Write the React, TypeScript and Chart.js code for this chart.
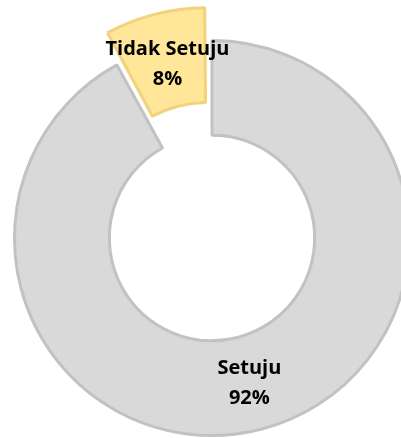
import React, { useEffect, useRef } from "react";
import { Chart, registerables } from "chart.js";

Chart.register(...registerables);

const categories: string[] = ["Setuju", "Tidak Setuju"];
const values: number[] = [92, 8];
const percentLabels: string[] = ["92%", "8%"];
const fillColors: string[] = ["#d9d9d9", "#ffe699"];
const borderColors: string[] = ["#c2c2c2", "#f2d27a"];
const explode: number[] = [0, 88];

const SIZE = 486;
const CX = 212;
const CY = 238;

const labelPlugin = {
  id: "sliceLabels",
  afterDatasetsDraw(chart: any) {
    const ctx = chart.ctx;
    const meta = chart.getDatasetMeta(0);
    ctx.save();
    ctx.fillStyle = "#000000";
    ctx.font = "bold 20px 'Open Sans', Carlito, Calibri, sans-serif";
    ctx.textAlign = "center";
    ctx.textBaseline = "middle";
    meta.data.forEach((arc: any, i: number) => {
      const p = arc.getProps(["x", "y", "startAngle", "endAngle", "innerRadius", "outerRadius"], true);
      const mid = (p.startAngle + p.endAngle) / 2;
      const r = (p.innerRadius + p.outerRadius) / 2 + (explode[i] || 0) * 0.33;
      const x = p.x + Math.cos(mid) * r;
      const y = p.y + Math.sin(mid) * r;
      ctx.fillText(categories[i], x, y - 15);
      ctx.fillText(percentLabels[i], x, y + 15);
    });
    ctx.restore();
  },
};

export default function App() {
  const ref = useRef<HTMLCanvasElement | null>(null);
  useEffect(() => {
    if (!ref.current) return;
    const chart = new Chart(ref.current, {
      type: "doughnut",
      data: {
        labels: categories,
        datasets: [
          {
            data: values,
            backgroundColor: fillColors,
            borderColor: borderColors,
            borderWidth: 3,
            offset: explode,
            hoverOffset: 0,
          },
        ],
      },
      options: {
        responsive: false,
        animation: false,
        cutout: "52%",
        layout: { padding: 0 },
        plugins: {
          legend: { display: false },
          tooltip: { enabled: false },
        },
        events: [],
      },
      plugins: [labelPlugin],
    });
    return () => chart.destroy();
  }, []);

  return (
    <div
      style={{
        position: "fixed",
        left: 0,
        top: 0,
        width: 401,
        height: 438,
        overflow: "hidden",
        background: "#ffffff",
      }}
    >
      <canvas
        ref={ref}
        width={SIZE}
        height={SIZE}
        style={{
          position: "absolute",
          left: CX - SIZE / 2,
          top: CY - SIZE / 2,
          width: SIZE,
          height: SIZE,
          display: "block",
        }}
      />
    </div>
  );
}
